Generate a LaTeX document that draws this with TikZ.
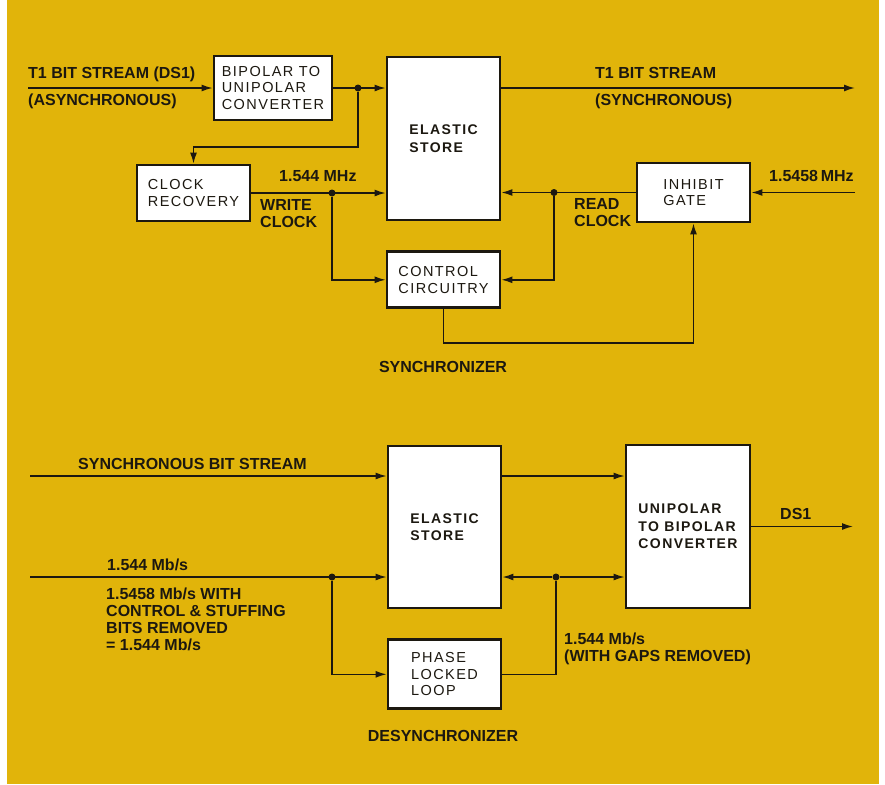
\documentclass[tikz,border=0pt]{standalone}
\usepackage{fontspec}
\setmainfont{Liberation Sans}
\newfontfamily\boxfont[LetterSpace=10]{Liberation Sans}
\usetikzlibrary{arrows.meta,positioning}
\definecolor{pagegold}{RGB}{225,180,10}
\definecolor{ink}{RGB}{28,24,16}

\begin{document}
\begin{tikzpicture}[x=1pt, y=-1pt, color=ink,
  box/.style={rectangle, draw=ink, line width=2.8pt, fill=white, inner sep=0pt, align=left,
    font=\boxfont\fontsize{14.5}{16.5}\selectfont},
  boldbox/.style={box, font=\boxfont\bfseries\fontsize{14}{17.5}\selectfont},
  arr/.style={-{Latex[length=11pt, width=7pt]}, line width=1.5pt},
  lnk/.style={line width=1.5pt},
  lbl/.style={anchor=north west, inner sep=0pt, align=left,
    font=\bfseries\fontsize{16}{16.8}\selectfont},
  title/.style={lbl, anchor=north},
  dot/.style={circle, fill=ink, inner sep=0pt, minimum size=7pt}
]
\useasboundingbox (0,0) rectangle (885,784);
\fill[white] (0,0) rectangle (885,784);
\fill[pagegold] (7,0) rectangle (879,784);

% synchronizer
\node[box, minimum width=118pt, minimum height=64pt] (b2u) at (273,88) {BIPOLAR TO\\UNIPOLAR\\CONVERTER};
\node[boldbox, minimum width=113pt, minimum height=163pt] (es1) at (443.5,138.5) {ELASTIC\\STORE};
\node[box, minimum width=113pt, minimum height=56pt] (cr) at (193.5,193) {CLOCK\\RECOVERY};
\node[box, minimum width=113pt, minimum height=56pt, below=29pt of es1] (cc) {CONTROL\\CIRCUITRY};
\node[box, minimum width=113pt, minimum height=59pt] (ig) at (693.5,192.5) {INHIBIT\\GATE};

\coordinate (t1in) at (28,88);
\coordinate (t1out) at (855,88);
\coordinate (clkin) at (855,192.5);
\node[dot] (jin) at (358,88) {};
\node[dot] (jwr) at (332,193) {};
\node[dot] (jrd) at (554,192.5) {};

\draw[arr] (t1in) -- (b2u);
\draw[arr] (b2u.east) -- (b2u.east -| es1.west);
\draw[arr] (jin) -- ++(0,59) -| (cr.north);
\draw[arr] (b2u.east -| es1.east) -- (t1out);
\draw[arr] (cr.east) -- (cr.east -| es1.west);
\draw[arr] (jwr) |- (cc.west);
\draw[arr] (ig.west) -- (ig.west -| es1.east);
\draw[arr] (jrd) |- (cc.east);
\draw[arr] (clkin) -- (ig.east);
\draw[arr] (cc.south) -- ++(0,34) -| (ig.south);

\node[lbl] (t1lbl) at (28,67) {T1 BIT STREAM (DS1)};
\node[lbl] (asyn) at (28,94) {(ASYNCHRONOUS)};
\node[lbl] (t1sync) at (595,67) {T1 BIT STREAM};
\node[lbl] (syn) at (595,94) {(SYNCHRONOUS)};
\node[lbl] (wfreq) at (279,170) {1.544 MHz};
\node[lbl] (wclk) at (260,199) {WRITE\\CLOCK};
\node[lbl] (rclk) at (574,198) {READ\\CLOCK};
\node[lbl] (rfreq) at (769,170) {1.5458\,MHz};
\node[title] (synch) at (443,361) {SYNCHRONIZER};

% desynchronizer
\node[boldbox, minimum width=113pt, minimum height=162pt] (es2) at (444.5,527) {ELASTIC\\STORE};
\node[box, minimum width=113pt, minimum height=69pt, below=29pt of es2] (pll) {PHASE\\LOCKED\\LOOP};
\node[boldbox, minimum width=124pt, minimum height=163pt] (u2b) at (688,526.5) {UNIPOLAR\\TO BIPOLAR\\CONVERTER};

\coordinate (sbin) at (30,476);
\coordinate (rtin) at (30,577);
\coordinate (dsout) at (853,526.5);
\node[dot] (jrt) at (332,577) {};
\node[dot] (jgap) at (556,577) {};

\draw[arr] (sbin) -- (sbin -| es2.west);
\draw[arr] (sbin -| es2.east) -- (sbin -| u2b.west);
\draw[arr] (rtin) -- (rtin -| es2.west);
\draw[arr] (jrt) |- (pll.west);
\draw[lnk] (pll.east) -| (jgap);
\draw[arr] (jgap) -- (jgap -| es2.east);
\draw[arr] (jgap) -- (jgap -| u2b.west);
\draw[arr] (u2b.east) -- (dsout);

\node[lbl] (sblbl) at (78,458) {SYNCHRONOUS BIT STREAM};
\node[lbl] (rtlbl) at (107,559) {1.544 Mb/s};
\node[lbl] (stuff) at (106,588) {1.5458 Mb/s WITH\\CONTROL \& STUFFING\\BITS REMOVED\\= 1.544 Mb/s};
\node[lbl] (gaps) at (564,633) {1.544 Mb/s\\(WITH GAPS REMOVED)};
\node[lbl] (dslbl) at (780,508) {DS1};
\node[title] (desynch) at (443,730) {DESYNCHRONIZER};
\end{tikzpicture}
\end{document}
